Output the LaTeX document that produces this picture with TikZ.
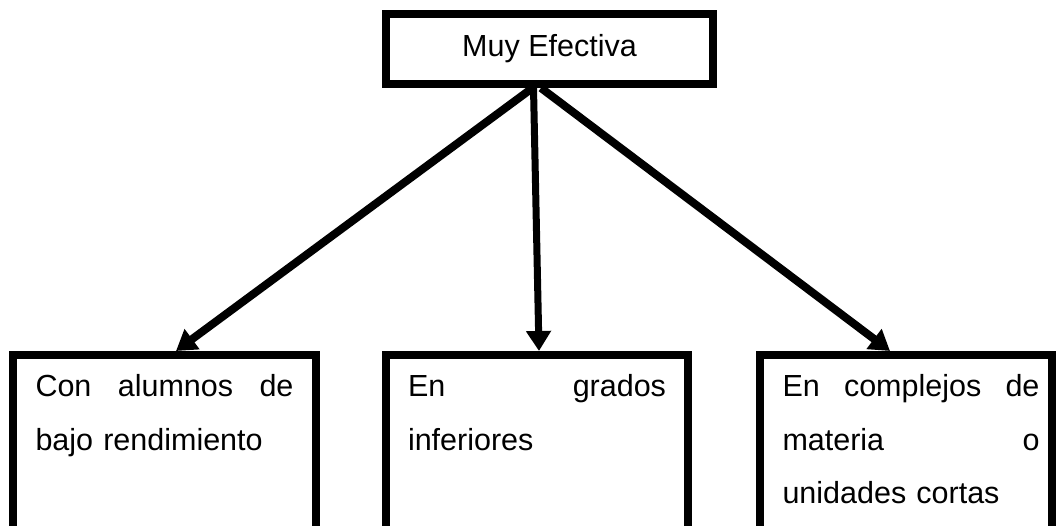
\documentclass[tikz,border=0pt]{standalone}
\usepackage{fontspec}
\setmainfont{Liberation Sans}
\usetikzlibrary{arrows.meta,calc}
\begin{document}
\begin{tikzpicture}[x=1pt,y=1pt,
  boxstyle/.style={draw=black, line width=8pt, rectangle, outer sep=0pt, inner ysep=0pt},
  bodyfont/.style={font=\fontsize{30.5}{53.5}\selectfont},
  leafbox/.style={boxstyle, bodyfont, align=left, anchor=north west,
    text height=42pt, text depth=136pt},
  linkarrow/.style={draw=black, line width=8pt, -{Triangle[length=20pt,width=24pt]}},
]
\useasboundingbox (0,0) rectangle (1056,526);
\clip (0,0) rectangle (1056,526);

\node[boxstyle, bodyfont, minimum width=327pt, minimum height=70pt] (top) at (549.5,477) {Muy Efectiva};

\node[leafbox, text width=258pt, inner xsep=22.5pt] (b1) at (13,171)
  {\hbox to 258pt{Con\hfill alumnos\hfill de}\\bajo rendimiento};
\node[leafbox, text width=258pt, inner xsep=22pt] (b2) at (386,171)
  {\hbox to 258pt{En\hfill grados}\\inferiores};
\node[leafbox, text width=269pt, inner xsep=11.5pt] (b3) at (760,171)
  {\hspace*{11pt}\hbox to 257pt{En\hfill complejos\hfill de}\\\hspace*{11pt}\hbox to 257pt{materia\hfill o}\\\hspace*{11pt}unidades cortas};

\coordinate (s1) at ($(top.south)+(-17,-4)$);
\coordinate (s2) at ($(top.south)+(-16,-4)$);
\coordinate (s3) at ($(top.south)+(-8.5,-4)$);
\coordinate (t1) at ($(b1.north west)+(163,4)$);
\coordinate (t2) at ($(b2.north west)+(153,4)$);
\coordinate (t3) at ($(b3.north west)+(130,4)$);

\draw[linkarrow] (s1) -- (t1);
\draw[linkarrow, line width=7pt] (s2) -- (t2);
\draw[linkarrow] (s3) -- (t3);
\end{tikzpicture}
\end{document}
